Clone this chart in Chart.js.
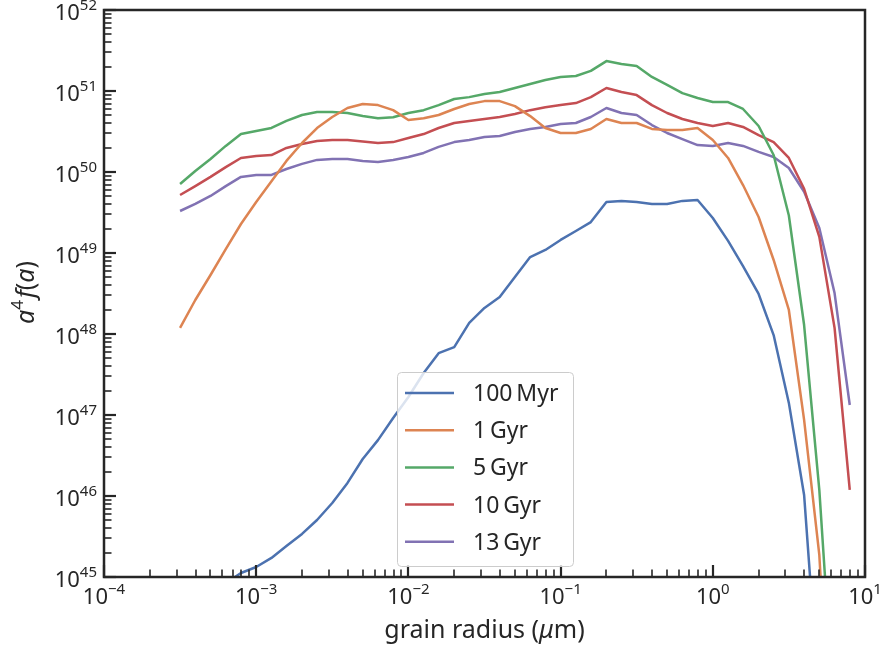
<!DOCTYPE html>
<html>
<head>
<meta charset="utf-8">
<script src="https://cdn.jsdelivr.net/npm/chart.js@4.4.1/dist/chart.umd.min.js"></script>
<style>
  html, body { margin: 0; padding: 0; background: #fff; }
  #wrap { width: 885px; height: 651px; }
</style>
</head>
<body>
<div id="wrap"><canvas id="chartDust" width="885" height="651"></canvas></div>
<script>
// grain radius in micron (log-spaced sample points)
const radius = [3.16e-4, 3.98e-4, 5.01e-4, 6.31e-4, 7.94e-4,
  1.00e-3, 1.26e-3, 1.58e-3, 2.00e-3, 2.51e-3, 3.16e-3, 3.98e-3, 5.01e-3, 6.31e-3, 7.94e-3,
  1.00e-2, 1.26e-2, 1.58e-2, 2.00e-2, 2.51e-2, 3.16e-2, 3.98e-2, 5.01e-2, 6.31e-2, 7.94e-2,
  0.100, 0.126, 0.158, 0.200, 0.251, 0.316, 0.398, 0.501, 0.631, 0.794,
  1.00, 1.26, 1.58, 2.00, 2.51, 3.16, 3.98, 5.01, 6.31, 7.94];

// a^4 f(a) for each age
const myr100 = [null, null, null, 8.4e44, 1.12e45, 1.33e45, 1.72e45, 2.41e45, 3.4e45, 5.06e45,
  8.2e45, 1.45e46, 2.86e46, 4.9e46, 9.2e46, 1.67e47, 3.3e47, 5.8e47, 6.9e47, 1.37e48,
  2.1e48, 2.86e48, 5.06e48, 8.9e48, 1.09e49, 1.45e49, 1.87e49, 2.41e49, 4.27e49, 4.4e49,
  4.27e49, 4.03e49, 4.03e49, 4.4e49, 4.51e49, 2.7e49, 1.41e49, 6.9e48, 3.12e48, 9.7e47,
  1.41e47, 1.03e46, 2.7e43, null, null];
const gyr1 = [1.19e48, 2.63e48, 5.35e48, 1.12e49, 2.28e49, 4.27e49, 7.7e49, 1.37e50, 2.28e50, 3.49e50,
  4.78e50, 6.17e50, 6.9e50, 6.7e50, 5.8e50, 4.39e50, 4.6e50, 5.06e50, 6.0e50, 6.9e50,
  7.5e50, 7.5e50, 6.5e50, 4.9e50, 3.49e50, 3.03e50, 3.03e50, 3.4e50, 4.51e50, 4.03e50,
  4.03e50, 3.4e50, 3.3e50, 3.3e50, 3.49e50, 2.48e50, 1.49e50, 6.9e49, 2.78e49, 8.2e48,
  1.98e48, 8.7e46, 1.87e45, 1e42, null];
const gyr5 = [7.1e49, 1.03e50, 1.45e50, 2.1e50, 2.94e50, 3.2e50, 3.5e50, 4.27e50, 5.06e50, 5.5e50,
  5.5e50, 5.35e50, 4.9e50, 4.6e50, 4.75e50, 5.35e50, 5.8e50, 6.7e50, 7.96e50, 8.4e50,
  9.2e50, 9.7e50, 1.09e51, 1.22e51, 1.37e51, 1.49e51, 1.53e51, 1.77e51, 2.34e51, 2.15e51,
  2.04e51, 1.49e51, 1.19e51, 9.4e50, 8.2e50, 7.3e50, 7.3e50, 6.0e50, 3.7e50, 1.62e50,
  2.9e49, 1.29e48, 1.19e46, 1.6e43, null];
const gyr10 = [5.2e49, 6.7e49, 8.7e49, 1.15e50, 1.49e50, 1.58e50, 1.62e50, 1.98e50, 2.22e50, 2.41e50,
  2.48e50, 2.48e50, 2.38e50, 2.28e50, 2.34e50, 2.63e50, 2.94e50, 3.49e50, 4.03e50, 4.27e50,
  4.51e50, 4.78e50, 5.2e50, 5.8e50, 6.3e50, 6.7e50, 7.1e50, 8.4e50, 1.09e51, 9.7e50,
  8.9e50, 6.7e50, 5.35e50, 4.51e50, 4.03e50, 3.7e50, 4.03e50, 3.6e50, 2.86e50, 2.34e50,
  1.49e50, 6.2e49, 1.58e49, 1.19e48, 1.19e46];
const gyr13 = [3.3e49, 4.03e49, 5.06e49, 6.7e49, 8.7e49, 9.2e49, 9.2e49, 1.09e50, 1.26e50, 1.41e50,
  1.45e50, 1.45e50, 1.37e50, 1.33e50, 1.41e50, 1.53e50, 1.72e50, 2.04e50, 2.34e50, 2.48e50,
  2.7e50, 2.78e50, 3.12e50, 3.4e50, 3.6e50, 3.92e50, 4.03e50, 4.78e50, 6.17e50, 5.35e50,
  5.06e50, 3.8e50, 3.03e50, 2.55e50, 2.15e50, 2.1e50, 2.28e50, 2.1e50, 1.77e50, 1.53e50,
  1.12e50, 5.7e49, 2.04e49, 3.2e48, 1.33e47];

const seriesLabels = ["100\u2009Myr", "1\u2009Gyr", "5\u2009Gyr", "10\u2009Gyr", "13\u2009Gyr"];
const seriesColors = ["#4c72b0", "#dd8452", "#55a868", "#c44e52", "#8172b3"];

// tick decades (powers of ten)
const xTickExps = [-4, -3, -2, -1, 0, 1];
const yTickExps = [45, 46, 47, 48, 49, 50, 51, 52];

const FONT = '"Noto Sans", "DejaVu Sans", sans-serif';
const INK = "#262626";

const series = [myr100, gyr1, gyr5, gyr10, gyr13];

function powLabel(ctx, exp, x, y, align) {
  const base = "10";
  const sup = exp < 0 ? "\u2212" + Math.abs(exp) : String(exp);
  ctx.font = "22px " + FONT;
  const wb = ctx.measureText(base).width;
  ctx.font = "15px " + FONT;
  const ws = ctx.measureText(sup).width;
  const w = wb + ws;
  let x0 = align === "right" ? x - w : x - w / 2;
  ctx.textAlign = "left";
  ctx.textBaseline = "alphabetic";
  ctx.font = "22px " + FONT;
  ctx.fillText(base, x0, y);
  ctx.font = "15px " + FONT;
  ctx.fillText(sup, x0 + wb, y - 10);
}

const axesDeco = {
  id: "axesDeco",
  afterDatasetsDraw(chart) {
    const { ctx, chartArea: a, scales: { x, y } } = chart;
    ctx.save();
    ctx.strokeStyle = INK;
    ctx.fillStyle = INK;

    // ticks, pointing inwards
    for (let e = xTickExps[0]; e <= xTickExps[xTickExps.length - 1]; e++) {
      for (let m = 1; m <= 9; m++) {
        const v = m * Math.pow(10, e);
        if (v < x.min * 0.999 || v > x.max * 1.001) continue;
        const px = Math.round(x.getPixelForValue(v));
        ctx.lineWidth = m === 1 ? 2.2 : 1.6;
        ctx.beginPath();
        ctx.moveTo(px, a.bottom);
        ctx.lineTo(px, a.bottom - (m === 1 ? 12 : 7.5));
        ctx.stroke();
      }
    }
    for (let e = yTickExps[0]; e <= yTickExps[yTickExps.length - 1]; e++) {
      for (let m = 1; m <= 9; m++) {
        const v = m * Math.pow(10, e);
        if (v < y.min * 0.999 || v > y.max * 1.001) continue;
        const py = Math.round(y.getPixelForValue(v));
        ctx.lineWidth = m === 1 ? 2.2 : 1.6;
        ctx.beginPath();
        ctx.moveTo(a.left, py);
        ctx.lineTo(a.left + (m === 1 ? 12 : 7.5), py);
        ctx.stroke();
      }
    }

    // frame
    ctx.lineWidth = 2.5;
    ctx.strokeRect(a.left, a.top, a.right - a.left, a.bottom - a.top);

    // tick labels
    xTickExps.forEach(e => powLabel(ctx, e, x.getPixelForValue(Math.pow(10, e)), a.bottom + 27, "center"));
    yTickExps.forEach(e => powLabel(ctx, e, a.left - 7, y.getPixelForValue(Math.pow(10, e)) + 10, "right"));

    // x title
    const cx = (a.left + a.right) / 2;
    const parts = [["grain radius (", "normal"], ["\u03bc", "italic"], ["m)", "normal"]];
    let tw = 0;
    parts.forEach(p => { ctx.font = p[1] + " 25px " + FONT; tw += ctx.measureText(p[0]).width; });
    let tx = cx - tw / 2;
    parts.forEach(p => {
      ctx.font = p[1] + " 25px " + FONT;
      ctx.fillText(p[0], tx, 638);
      tx += ctx.measureText(p[0]).width;
    });

    // y title, rotated
    ctx.save();
    ctx.translate(34, (a.top + a.bottom) / 2);
    ctx.rotate(-Math.PI / 2);
    const yparts = [["a", "italic 25px", 0], ["4", "17px", -11], ["f", "italic 25px", 0], ["(", "25px", 0], ["a", "italic 25px", 0], [")", "25px", 0]];
    let yw = 0;
    yparts.forEach(p => { ctx.font = p[1] + " " + FONT; yw += ctx.measureText(p[0]).width; });
    let yx = -yw / 2;
    yparts.forEach(p => {
      ctx.font = p[1] + " " + FONT;
      ctx.fillText(p[0], yx, p[2]);
      yx += ctx.measureText(p[0]).width + (p[0] === "4" ? 2 : 0);
    });
    ctx.restore();

    // legend
    const lx = 397, ly = 372, lw = 176, lh = 194;
    ctx.beginPath();
    ctx.roundRect(lx + 0.5, ly + 0.5, lw, lh, 4);
    ctx.fillStyle = "rgba(255,255,255,0.8)";
    ctx.fill();
    ctx.lineWidth = 1;
    ctx.strokeStyle = "#cccccc";
    ctx.stroke();
    chart.data.datasets.forEach((ds, i) => {
      const yy = 393 + i * 37.2;
      ctx.strokeStyle = ds.borderColor;
      ctx.lineWidth = 2.5;
      ctx.beginPath();
      ctx.moveTo(405, yy);
      ctx.lineTo(454, yy);
      ctx.stroke();
      ctx.fillStyle = INK;
      ctx.font = "23px " + FONT;
      ctx.textAlign = "left";
      ctx.fillText(ds.label, 473, yy + 8);
    });
    ctx.restore();
  }
};

new Chart(document.querySelector("#chartDust"), {
  type: "line",
  data: {
    datasets: series.map((vals, i) => ({
      label: seriesLabels[i],
      data: radius.map((r, j) => ({ x: r, y: vals[j] })),
      borderColor: seriesColors[i],
      backgroundColor: seriesColors[i],
      borderWidth: 2.5,
      pointRadius: 0,
      tension: 0,
      fill: false,
      borderJoinStyle: "round",
      spanGaps: false,
      clip: 0,
    })),
  },
  options: {
    responsive: false,
    animation: false,
    devicePixelRatio: 1,
    layout: { padding: { left: 104, right: 20, top: 10, bottom: 74 } },
    scales: {
      x: { type: "logarithmic", min: 1e-4, max: 10, display: false },
      y: { type: "logarithmic", min: 1e45, max: 1e52, display: false },
    },
    plugins: {
      legend: { display: false },
      tooltip: { enabled: false },
    },
  },
  plugins: [axesDeco],
});
</script>
</body>
</html>
